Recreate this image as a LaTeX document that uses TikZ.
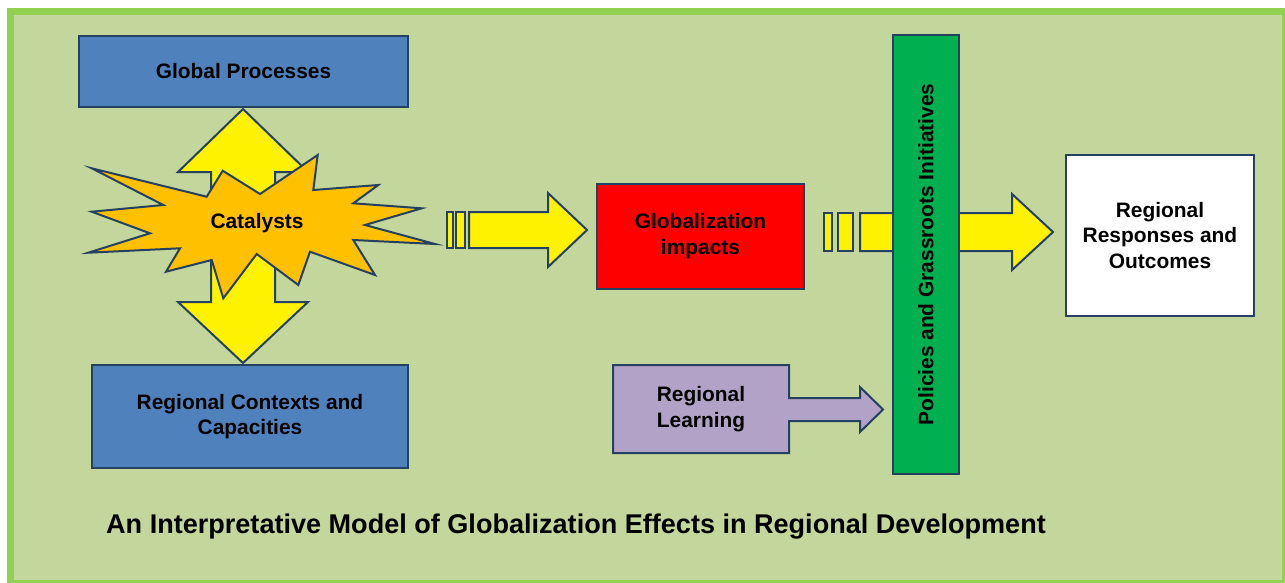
\documentclass[tikz,border=0pt]{standalone}
\usepackage{fontspec}
\setmainfont{Liberation Sans}
\usetikzlibrary{calc,shapes}
\definecolor{bgolive}{RGB}{195,214,155}
\definecolor{framegreen}{RGB}{146,208,80}
\definecolor{boxblue}{RGB}{79,129,189}
\definecolor{edgeslate}{RGB}{38,64,96}
\definecolor{catorange}{RGB}{255,192,0}
\definecolor{polgreen}{RGB}{0,176,80}
\definecolor{learnpurple}{RGB}{179,162,199}
\tikzset{
  box/.style={draw=edgeslate,line width=0.04cm,align=center,inner sep=0pt,
    font=\bfseries\fontsize{11.9}{14.7}\selectfont},
  blockarrow/.style={draw=edgeslate,line width=0.04cm,fill=yellow,line join=miter},
  label/.style={align=center,font=\bfseries\fontsize{11.9}{14.7}\selectfont}
}

\begin{document}
\begin{tikzpicture}[x=0.02cm,y=-0.02cm]
				% Cadre
				\useasboundingbox (0,0) rectangle (1285,582);
				\clip (0,0) rectangle (1285,582);
				\fill [white] (0,0) rectangle (1285,582);
				\draw [framegreen,line width=0.14cm,fill=bgolive] (10.5,11.5) rectangle (1285,583.5);
				% Double flèche et catalyseurs
				\draw [blockarrow] (243,109) -- (308,172) -- (275,172) -- (275,302) -- (308,302) -- (243,363)
				      -- (178,302) -- (211,302) -- (211,172) -- (178,172) -- cycle;
				\draw [draw=edgeslate,line width=0.04cm,fill=catorange,line join=miter]
				      (91.7,168.3) -- (206.7,196.7) -- (222.7,170.7) -- (260,194) -- (317.7,155) -- (313.3,190)
				      -- (378.3,185) -- (353.3,203.3) -- (421.7,208.3) -- (365,225) -- (435,244) -- (353.3,240)
				      -- (375,275) -- (310,251.7) -- (298.3,285) -- (256.7,254) -- (223.3,298.3) -- (211.7,260)
				      -- (166,271.7) -- (180,248.3) -- (88.3,252.7) -- (150,233.3) -- (91.7,211.7) -- (163.3,205) -- cycle;
				\node [label] (cat) at (257,223) {Catalysts};
				\node [box,fill=boxblue,minimum width=6.58cm,minimum height=1.42cm] (glob) at (243.5,71.5) {Global Processes};
				\node [box,fill=boxblue,minimum width=6.32cm,minimum height=2.06cm] (ctx) at (250,416.5) {Regional Contexts and\\Capacities};
				% Flèche vers les impacts
				\draw [blockarrow] (447,212) rectangle (453,248);
				\draw [blockarrow] (456,212) rectangle (465,248);
				\draw [blockarrow] (469,212) -- (548,212) -- (548,193) -- (587,230) -- (548,267) -- (548,248) -- (469,248) -- cycle;
				\node [box,fill=red,minimum width=4.14cm,minimum height=2.1cm] (imp) at (700.5,236.5) {Globalization\\impacts};
				% Flèche vers les réponses
				\draw [blockarrow] (824,213) rectangle (832,251);
				\draw [blockarrow] (838,213) rectangle (853,251);
				\draw [blockarrow] (860,213) -- (1012,213) -- (1012,194) -- (1053,232) -- (1012,270) -- (1012,251) -- (860,251) -- cycle;
				\node [box,fill=polgreen,minimum width=1.32cm,minimum height=8.78cm] (pol) at (926,254.5) {};
				\node [label,rotate=90] (poltext) at (pol.center) {Policies and Grassroots Initiatives};
				\node [box,fill=white,minimum width=3.76cm,minimum height=3.22cm] (resp) at (1160,235.5) {Regional\\Responses and\\Outcomes};
				% Apprentissage
				\draw [draw=edgeslate,line width=0.04cm,fill=learnpurple,line join=miter]
				      (613,365) -- (789,365) -- (789,398) -- (860,398) -- (860,387) -- (883,409.5) -- (860,432)
				      -- (860,421) -- (789,421) -- (789,453) -- (613,453) -- cycle;
				\node [label] (learn) at (701,409) {Regional\\Learning};
				% Titre
				\node [font=\bfseries\fontsize{15.4}{18}\selectfont] (title) at (576,527)
				      {An Interpretative Model of Globalization Effects in Regional Development};
				\end{tikzpicture}
\end{document}
